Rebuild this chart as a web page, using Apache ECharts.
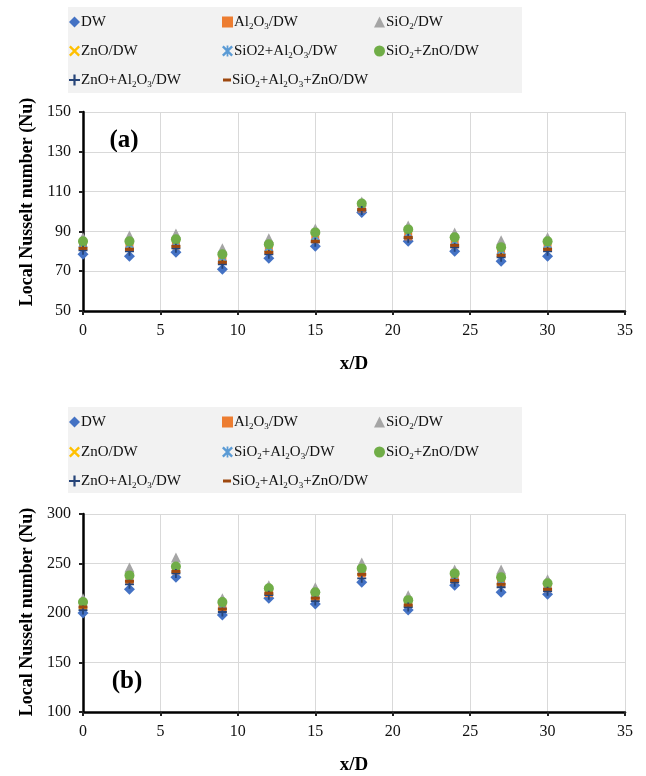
<!DOCTYPE html>
<html>
<head>
<meta charset="utf-8">
<title>Local Nusselt number</title>
<script src="https://cdn.jsdelivr.net/npm/echarts@6/dist/echarts.min.js"></script>
<style>
  html, body { margin: 0; padding: 0; background: #fff; }
  #chart { width: 646px; height: 776px; }
</style>
</head>
<body>
<div id="chart"></div>
<script>
// x/D stations (same for both panels)
var xD = [0, 3, 6, 9, 12, 15, 18, 21, 24, 27, 30];

// series names (legend order)
var names = ['DW', 'Al2O3/DW', 'SiO2/DW', 'ZnO/DW', 'SiO2+Al2O3/DW', 'SiO2+ZnO/DW', 'ZnO+Al2O3/DW', 'SiO2+Al2O3+ZnO/DW'];

// panel (a)
var aDW       = [78.5, 77.5, 79.5, 71, 76.5, 82.5, 99.5, 85, 80, 75, 77.5];
var aAl2O3    = [82.5, 82, 83, 75.5, 80.5, 86, 101.5, 87.5, 83.5, 79, 82];
var aSiO2     = [87, 88, 89, 81.5, 86.5, 91.5, 105, 93, 89.5, 85.5, 87];
var aZnO      = [83.5, 83, 84, 76.5, 81.5, 87, 102.5, 88.5, 84.5, 80, 83];
var aSiAl     = [84, 83.5, 84.5, 77, 82, 87.5, 103, 89, 85, 80.5, 83.5];
var aSiZn     = [85, 85, 86, 78.5, 83.5, 89.5, 104, 91, 87, 82, 85];
var aZnAl     = [80.5, 80, 81.5, 73.5, 78.5, 84.5, 100.5, 86.5, 82, 77, 80];
var aSiAlZn   = [81.5, 81, 82.5, 74.5, 79.5, 85, 101, 87, 83, 78, 81];

// panel (b)
var bDW       = [200, 224, 236, 198, 215, 209, 231, 203, 228, 221, 219];
var bAl2O3    = [207, 233, 243, 205, 220, 216, 240, 209, 234, 230, 225];
var bSiO2     = [215, 246, 256, 215, 228, 226, 251, 218, 244, 244, 234];
var bZnO      = [208, 235, 244, 207, 222, 218, 242, 210, 236, 232, 227];
var bSiAl     = [209, 236, 245, 208, 223, 219, 243, 211, 237, 233, 228];
var bSiZn     = [211, 238, 247, 211, 225, 221, 245, 213, 240, 236, 230];
var bZnAl     = [203, 229, 240, 201, 218, 212, 235, 206, 231, 226, 222];
var bSiAlZn   = [206, 232, 242, 204, 220, 215, 239, 208, 233, 229, 224];

var aData = [aDW, aAl2O3, aSiO2, aZnO, aSiAl, aSiZn, aZnAl, aSiAlZn];
var bData = [bDW, bAl2O3, bSiO2, bZnO, bSiAl, bSiZn, bZnAl, bSiAlZn];

// legend labels with subscripts (rich text)
var labels = {
  'DW': 'DW',
  'Al2O3/DW': 'Al{s|2}O{s|3}/DW',
  'SiO2/DW': 'SiO{s|2}/DW',
  'ZnO/DW': 'ZnO/DW',
  'SiO2+Al2O3/DW': 'SiO2+Al{s|2}O{s|3}/DW',
  'SiO2+ZnO/DW': 'SiO{s|2}+ZnO/DW',
  'ZnO+Al2O3/DW': 'ZnO+Al{s|2}O{s|3}/DW',
  'SiO2+Al2O3+ZnO/DW': 'SiO{s|2}+Al{s|2}O{s|3}+ZnO/DW'
};
var labelsB = Object.assign({}, labels, { 'SiO2+Al2O3/DW': 'SiO{s|2}+Al{s|2}O{s|3}/DW' });

var colors = ['#4472C4', '#ED7D31', '#A5A5A5', '#FFC000', '#5B9BD5', '#70AD47', '#264478', '#9E480E'];

var crossPath = 'path://M0,1.5L1.5,0L5,3.5L8.5,0L10,1.5L6.5,5L10,8.5L8.5,10L5,6.5L1.5,10L0,8.5L3.5,5Z';
var starPath = 'path://M0,1.5L1.5,0L5,3.5L8.5,0L10,1.5L6.5,5L10,8.5L8.5,10L5,6.5L1.5,10L0,8.5L3.5,5ZM4.2,0H5.8V10H4.2Z';
var plusPath = 'path://M4,0H6V4H10V6H6V10H4V6H0V4H4Z';
var symbols = ['diamond', 'rect', 'triangle', crossPath, starPath, 'circle', plusPath, 'rect'];
var symbolSizes = [11, 8, 10, 9, 9, 10, 9, [9, 3]];

// legend cell layout: [column, row]
var cells = [[0, 0], [1, 0], [2, 0], [0, 1], [1, 1], [2, 1], [0, 2], [1, 2]];
var colLeft = [69, 222, 374];

function pairs(vals) {
  return xD.map(function (x, i) { return [x, vals[i]]; });
}

var font = 'Liberation Serif';

function makeLegends(rowTops, lab) {
  return names.map(function (n, i) {
    var c = cells[i];
    var dash = i === 7;
    return {
      orient: 'horizontal',
      left: colLeft[c[0]] + (dash ? 1 : 0),
      top: rowTops[c[1]],
      padding: 0,
      itemGap: 0,
      itemWidth: dash ? 8 : 11,
      itemHeight: dash ? 3 : 11,
      selectedMode: false,
      data: [n],
      formatter: function (name) { return lab[name]; },
      textStyle: {
        fontFamily: font,
        fontSize: 15,
        color: '#111',
        lineHeight: 18,
        padding: [0, 0, 0, -4],
        rich: {
          s: { fontFamily: font, fontSize: 9, lineHeight: 7, verticalAlign: 'bottom', color: '#111' }
        }
      }
    };
  });
}

function makeSeries(dataSets, idx) {
  return dataSets.map(function (vals, i) {
    return {
      name: names[i],
      type: 'scatter',
      xAxisIndex: idx,
      yAxisIndex: idx,
      symbol: symbols[i],
      symbolSize: symbolSizes[i],
      itemStyle: { color: colors[i], opacity: 1 },
      data: pairs(vals)
    };
  });
}

function xAxisFor(idx) {
  return {
    gridIndex: idx,
    type: 'value',
    min: 0,
    max: 35,
    interval: 5,
    name: 'x/D',
    nameLocation: 'middle',
    nameGap: 44,
    nameTextStyle: { fontFamily: font, fontSize: 19, fontWeight: 'bold', color: '#000' },
    axisLine: { onZero: false, lineStyle: { color: '#000', width: 2.5 } },
    axisTick: { show: true, length: 4, lineStyle: { color: '#222', width: 2 } },
    axisLabel: { fontFamily: font, fontSize: 16, color: '#111', margin: 12 },
    splitLine: { show: true, lineStyle: { color: '#d9d9d9', width: 1 } }
  };
}

function yAxisFor(idx, min, max, step) {
  return {
    gridIndex: idx,
    type: 'value',
    min: min,
    max: max,
    interval: step,
    axisLine: { show: true, lineStyle: { color: '#000', width: 2.5 } },
    axisTick: { show: true, length: 4, lineStyle: { color: '#222', width: 2 } },
    axisLabel: { fontFamily: font, fontSize: 16, color: '#111', margin: 12 },
    splitLine: { show: true, lineStyle: { color: '#d9d9d9', width: 1 } }
  };
}

var chart = echarts.init(document.getElementById('chart'), null, { renderer: 'canvas' });

chart.setOption({
  backgroundColor: '#fff',
  animation: false,
  color: colors,
  graphic: [
    { type: 'rect', z: -10, shape: { x: 68, y: 7, width: 454, height: 86 }, style: { fill: '#f2f2f2' } },
    { type: 'rect', z: -10, shape: { x: 68, y: 407, width: 454, height: 86 }, style: { fill: '#f2f2f2' } },
    { type: 'text', x: 124, y: 141, style: { text: '(a)', font: 'bold 25px "Liberation Serif"', fill: '#000', align: 'center', verticalAlign: 'middle' } },
    { type: 'text', x: 127, y: 682, style: { text: '(b)', font: 'bold 25px "Liberation Serif"', fill: '#000', align: 'center', verticalAlign: 'middle' } },
    { type: 'text', x: 27, y: 202, rotation: Math.PI / 2, style: { text: 'Local Nusselt number (Nu)', font: 'bold 18px "Liberation Serif"', fill: '#000', align: 'center', verticalAlign: 'middle' } },
    { type: 'text', x: 27, y: 612, rotation: Math.PI / 2, style: { text: 'Local Nusselt number (Nu)', font: 'bold 18px "Liberation Serif"', fill: '#000', align: 'center', verticalAlign: 'middle' } }
  ],
  legend: makeLegends([13, 42, 71], labels).concat(makeLegends([413, 443, 472], labelsB)),
  grid: [
    { left: 83, top: 112, width: 542, height: 199 },
    { left: 83, top: 514, width: 542, height: 198 }
  ],
  xAxis: [xAxisFor(0), xAxisFor(1)],
  yAxis: [yAxisFor(0, 50, 150, 20), yAxisFor(1, 100, 300, 50)],
  series: makeSeries(aData, 0).concat(makeSeries(bData, 1))
});
</script>
</body>
</html>
